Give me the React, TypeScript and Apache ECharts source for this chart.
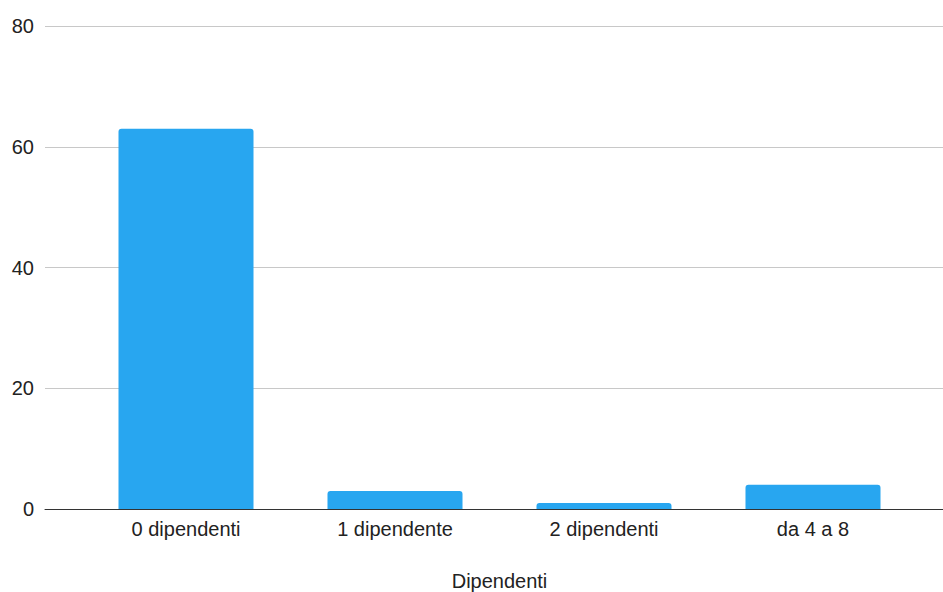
import React, { useEffect, useRef } from "react";
import * as echarts from "echarts";

// Numero di aziende per classe di dipendenti
const categories = ["0 dipendenti", "1 dipendente", "2 dipendenti", "da 4 a 8"];
const counts = [63, 3, 1, 4];
const yTicks = { min: 0, max: 80, interval: 20 };
const axisTitle = "Dipendenti";

const FONT = "'Liberation Sans', Arial, sans-serif";
const TEXT = "#222222";

export default function App() {
  const ref = useRef<HTMLDivElement>(null);

  useEffect(() => {
    if (!ref.current) return;
    const chart = echarts.init(ref.current, null, { renderer: "svg" });
    chart.setOption({
      animation: false,
      backgroundColor: "#ffffff",
      textStyle: { fontFamily: FONT },
      grid: [
        // wide grid: gridlines, value labels and the baseline
        { left: 45, right: 0, top: 26, bottom: 83, outerBoundsMode: "none" },
        // inner grid: the category bands and bars
        { left: 81.5, right: 25.5, top: 26, bottom: 83, outerBoundsMode: "none" },
      ],
      xAxis: [
        {
          gridIndex: 0,
          type: "value",
          min: 0,
          max: 1,
          axisLine: { show: true, lineStyle: { color: "#333333", width: 1 } },
          axisTick: { show: false },
          axisLabel: { show: false },
          splitLine: { show: false },
          z: 5,
        },
        {
          gridIndex: 1,
          type: "category",
          data: categories,
          axisLine: { show: false },
          axisTick: { show: false },
          axisLabel: { color: TEXT, fontSize: 20, margin: 10, fontFamily: FONT },
          name: axisTitle,
          nameLocation: "middle",
          nameGap: 62,
          nameTextStyle: { color: TEXT, fontSize: 20, fontFamily: FONT },
        },
      ],
      yAxis: [
        {
          gridIndex: 0,
          type: "value",
          min: yTicks.min,
          max: yTicks.max,
          interval: yTicks.interval,
          axisLine: { show: false },
          axisTick: { show: false },
          axisLabel: { color: TEXT, fontSize: 20, margin: 11, fontFamily: FONT },
          splitLine: { show: true, lineStyle: { color: "#c8c8c8", width: 1 } },
        },
        {
          gridIndex: 1,
          type: "value",
          min: yTicks.min,
          max: yTicks.max,
          interval: yTicks.interval,
          show: false,
        },
      ],
      series: [
        {
          type: "bar",
          xAxisIndex: 1,
          yAxisIndex: 1,
          data: counts,
          barWidth: "64.6%",
          itemStyle: { color: "#28a6f0", borderRadius: [3, 3, 0, 0] },
        },
      ],
    });
    return () => chart.dispose();
  }, []);

  return (
    <div
      ref={ref}
      style={{ position: "fixed", left: 0, top: 0, width: 943, height: 592 }}
    />
  );
}
